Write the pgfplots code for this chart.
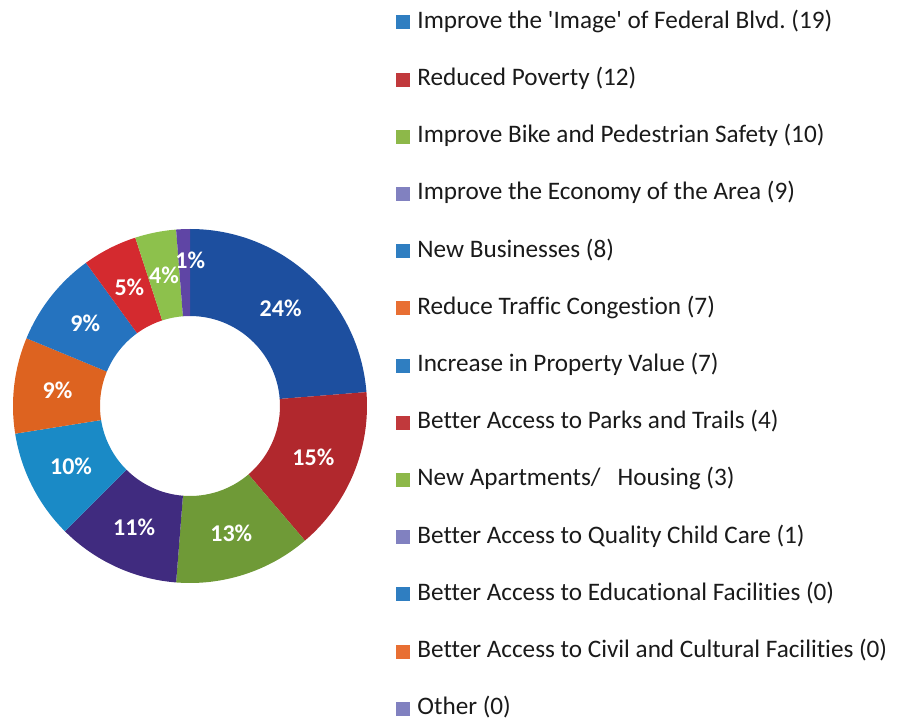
\documentclass[border=0pt]{standalone}
\usepackage{fontspec}
\setmainfont{Carlito}[Ligatures=NoCommon]
\usepackage{pgfplots}
\pgfplotsset{compat=1.18}
\usepackage{pgfplotstable}
\frenchspacing

% slice colours
\definecolor{s1}{HTML}{1D4F9F}
\definecolor{s2}{HTML}{B1282D}
\definecolor{s3}{HTML}{6F9A37}
\definecolor{s4}{HTML}{402B7F}
\definecolor{s5}{HTML}{1A8AC6}
\definecolor{s6}{HTML}{DD6320}
\definecolor{s7}{HTML}{2573BF}
\definecolor{s8}{HTML}{D42A2F}
\definecolor{s9}{HTML}{8DC14C}
\definecolor{s10}{HTML}{5F45A5}
% legend colours
\definecolor{lblue}{HTML}{2F7EC1}
\definecolor{lred}{HTML}{C1393C}
\definecolor{lgreen}{HTML}{8DB849}
\definecolor{llav}{HTML}{8181C0}
\definecolor{lorange}{HTML}{E86F33}
\definecolor{legtext}{HTML}{1A1A1A}

% count, rounded percent, label radius (px), label x shift (pt), colour
\pgfplotstableread{
cnt pct lr dx col
19 24 133.5 0 s1
12 15 133.5 0 s2
10 13 133.5 0 s3
9  11 133.5 0 s4
8  10 133.5 0 s5
7  9  133.5 0 s6
7  9  133.5 0 s7
4  5  133.5 0 s8
3  4  133.5 0 s9
1  1  146   3 s10
}\slices

\tikzset{
  pctlab/.style={text=white, inner sep=0pt, font=\fontsize{12}{14}\selectfont\bfseries},
}
\pgfplotsset{
  sq/.style={legend image code/.code={\fill[##1] (0pt,-3.25pt) rectangle (6.5pt,3.25pt);}},
}

\begin{document}
\begin{tikzpicture}
\useasboundingbox (0,0) rectangle (453pt,359.5pt);
\begin{axis}[
  at={(0,0)}, anchor=south west,
  scale only axis, width=453pt, height=359.5pt,
  xmin=0, xmax=906, ymin=0, ymax=719,
  hide axis, clip=false,
  legend cell align=left,
  legend style={at={(axis cs:396,708.7)}, anchor=north west, draw=none, fill=none,
    inner sep=0pt, outer sep=0pt, row sep=16.6pt, column sep=3.8pt,
    font=\fontsize{12.6}{14}\selectfont, text=legtext,
    nodes={inner sep=0pt, text height=9pt, text depth=3pt}},
]
\pgfplotstablegetrowsof{\slices}
\pgfmathtruncatemacro\nrows{\pgfplotsretval-1}
\def\total{0}
\pgfplotsforeachungrouped \i in {0,...,\nrows}{%
  \pgfplotstablegetelem{\i}{cnt}\of\slices
  \pgfmathsetmacro\total{\total+\pgfplotsretval}%
}
\def\cum{0}
\pgfplotsforeachungrouped \i in {0,...,\nrows}{%
  \pgfplotstablegetelem{\i}{cnt}\of\slices \let\cnt\pgfplotsretval
  \pgfplotstablegetelem{\i}{pct}\of\slices \let\pct\pgfplotsretval
  \pgfplotstablegetelem{\i}{lr}\of\slices \let\lr\pgfplotsretval
  \pgfplotstablegetelem{\i}{dx}\of\slices \let\dx\pgfplotsretval
  \pgfplotstablegetelem{\i}{col}\of\slices \let\col\pgfplotsretval
  \pgfmathsetmacro\aS{90-\cum/\total*360}%
  \pgfmathsetmacro\aE{90-(\cum+\cnt)/\total*360}%
  \pgfmathsetmacro\aM{(\aS+\aE)/2}%
  \pgfmathsetmacro\lrpt{0.5*\lr}%
  \edef\temp{%
    \noexpand\fill[\col] (axis cs:190,313) ++(\aS:88.5pt)
      arc[start angle=\aS, end angle=\aE, radius=88.5pt]
      -- ++(\aE+180:43.5pt)
      arc[start angle=\aE, end angle=\aS, radius=45pt] -- cycle;
    \noexpand\path (axis cs:190,313) ++(\aM:\lrpt pt) node[pctlab, xshift=\dx pt] {\pct\noexpand\%};
  }\temp
  \pgfmathsetmacro\cum{\cum+\cnt}%
}

\addlegendimage{sq,lblue}\addlegendentry{Improve the \textquotesingle Image\textquotesingle\ of Federal Blvd. (19)}
\addlegendimage{sq,lred}\addlegendentry{Reduced Poverty (12)}
\addlegendimage{sq,lgreen}\addlegendentry{Improve Bike and Pedestrian Safety (10)}
\addlegendimage{sq,llav}\addlegendentry{Improve the Economy of the Area (9)}
\addlegendimage{sq,lblue}\addlegendentry{New Businesses (8)}
\addlegendimage{sq,lorange}\addlegendentry{Reduce Traffic Congestion (7)}
\addlegendimage{sq,lblue}\addlegendentry{Increase in Property Value (7)}
\addlegendimage{sq,lred}\addlegendentry{Better Access to Parks and Trails (4)}
\addlegendimage{sq,lgreen}\addlegendentry{New Apartments/\ \ \ Housing (3)}
\addlegendimage{sq,llav}\addlegendentry{Better Access to Quality Child Care (1)}
\addlegendimage{sq,lblue}\addlegendentry{Better Access to Educational Facilities (0)}
\addlegendimage{sq,lorange}\addlegendentry{Better Access to Civil and Cultural Facilities (0)}
\addlegendimage{sq,llav}\addlegendentry{Other (0)}
\end{axis}
\end{tikzpicture}
\end{document}
